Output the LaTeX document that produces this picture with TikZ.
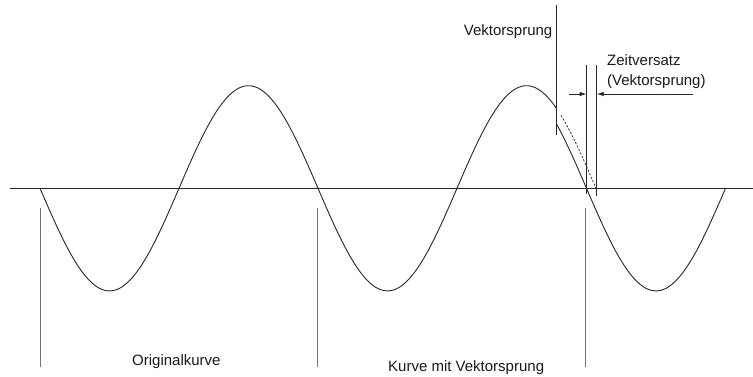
\documentclass[tikz,border=0pt]{standalone}
\usepackage{fontspec}
\setmainfont{Liberation Sans}
\usetikzlibrary{arrows.meta}
\begin{document}
\begin{tikzpicture}[x=1pt,y=-1pt,
  curve/.style={line width=0.9pt, black!85},
  axisline/.style={line width=1.2pt, black!85},
  marker/.style={line width=0.9pt, black!85},
  guide/.style={line width=0.9pt, black!55},
  dim/.style={line width=0.9pt, black!85, -{Latex[length=7pt,width=4.5pt]}},
  lbl/.style={inner sep=0pt, anchor=base west, font=\fontsize{15}{18}\selectfont, text=black!90}]
\useasboundingbox (0,0) rectangle (753,376);
% axis
\coordinate (axL) at (10,188.3);
\coordinate (axR) at (753,188.3);
\draw[axisline] (axL) -- (axR);
% original curve up to the jump
\draw[curve] plot[domain=40:556.7, samples=220] (\x, {188.3 + 102.6*sin((\x-40)*1.294964)});
% shifted curve after the jump
\draw[curve] plot[domain=556.7:725.5, samples=90] (\x, {188.3 + 102.6*sin((\x-30.5)*1.294964)});
% dashed continuation of original
\draw[curve, dash pattern=on 2.2pt off 1.6pt, line width=0.7pt] plot[domain=561:596, samples=40] (\x, {188.3 + 102.6*sin((\x-40)*1.294964)});
% Vektorsprung marker
\coordinate (vsT) at (556.7,5);
\coordinate (vsB) at (556.7,135);
\draw[marker] (vsT) -- (vsB);
% Zeitversatz lines
\coordinate (z1T) at (586.7,65);
\coordinate (z1B) at (586.7,194);
\coordinate (z2T) at (596.7,65);
\coordinate (z2B) at (596.7,196);
\draw[marker] (z1T) -- (z1B);
\draw[marker] (z2T) -- (z2B);
% dimension arrows
\coordinate (a1S) at (569,94);
\coordinate (a1E) at (586.7,94);
\coordinate (a2S) at (693,94);
\coordinate (a2E) at (596.7,94);
\draw[dim] (a1S) -- (a1E);
\draw[dim] (a2S) -- (a2E);
% bottom guide lines
\coordinate (g1T) at (40,208);   \coordinate (g1B) at (40,367);
\coordinate (g2T) at (317.7,208); \coordinate (g2B) at (317.7,367);
\coordinate (g3T) at (585.7,208); \coordinate (g3B) at (585.7,367);
\draw[guide] (g1T) -- (g1B);
\draw[guide] (g2T) -- (g2B);
\draw[guide] (g3T) -- (g3B);
% labels
\node[lbl, anchor=base east] (tvs) at (552.5,35) {Vektorsprung};
\node[lbl] (tzv) at (607,65.7) {Zeitversatz};
\node[lbl] (tzv2) at (607,85.5) {(Vektorsprung)};
\node[lbl] (torig) at (132,365) {Originalkurve};
\node[lbl] (tkurve) at (388,371) {Kurve mit Vektorsprung};
\end{tikzpicture}
\end{document}
